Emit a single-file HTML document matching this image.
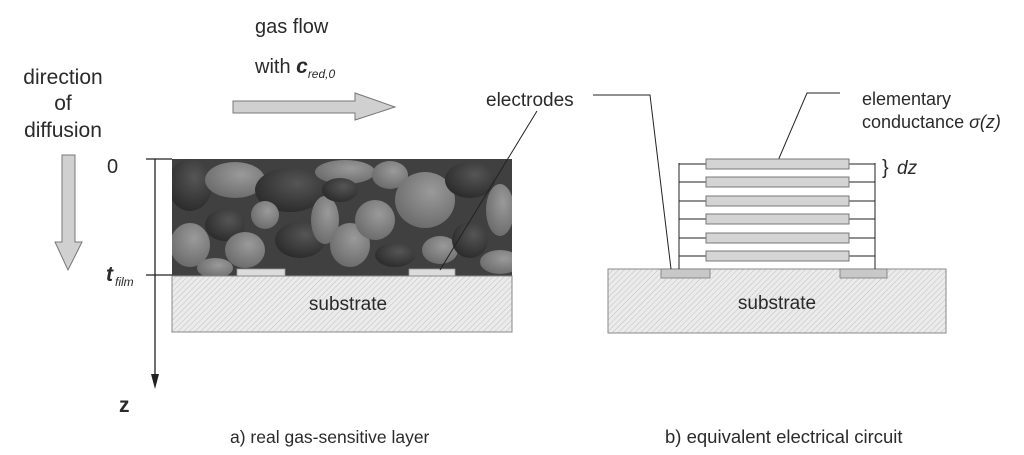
<!DOCTYPE html>
<html><head><meta charset="utf-8"><style>
html,body{margin:0;padding:0;background:#fff;width:1024px;height:455px;overflow:hidden}
text{font-family:"Liberation Sans",sans-serif;fill:#2a2a2a}
</style></head><body>
<svg width="1024" height="455" viewBox="0 0 1024 455" xmlns="http://www.w3.org/2000/svg">
<defs>
<pattern id="h" width="4" height="4" patternUnits="userSpaceOnUse" patternTransform="rotate(45)">
<rect width="4" height="4" fill="#ebebeb"/><line x1="0" y1="0" x2="0" y2="4" stroke="#c0c0c0" stroke-width="1"/></pattern>
<radialGradient id="gl" cx="0.6" cy="0.35" r="0.7"><stop offset="0" stop-color="#9a9a9a"/><stop offset="1" stop-color="#6a6a6a"/></radialGradient>
<radialGradient id="gd" cx="0.6" cy="0.35" r="0.7"><stop offset="0" stop-color="#555"/><stop offset="1" stop-color="#2a2a2a"/></radialGradient>
<clipPath id="fc"><rect x="172" y="159" width="340" height="117"/></clipPath>
</defs>

<text x="255" y="33" font-size="20">gas flow</text>
<text x="255" y="73" font-size="20">with <tspan font-style="italic" font-weight="bold" font-size="21">c</tspan><tspan font-style="italic" font-size="12" dy="5">red,0</tspan></text>
<text x="63" y="84" font-size="21" text-anchor="middle">direction</text>
<text x="63" y="110" font-size="21" text-anchor="middle">of</text>
<text x="63" y="137" font-size="21" text-anchor="middle">diffusion</text>

<polygon points="233,101 355,101 355,93 395,107 355,120 355,113 233,113" fill="#d0d0d0" stroke="#777" stroke-width="1"/>
<polygon points="62,155 75,155 75,242 82,242 68,270 55,242 62,242" fill="#d0d0d0" stroke="#777" stroke-width="1"/>

<line x1="155" y1="159" x2="155" y2="380" stroke="#222" stroke-width="1.3"/>
<polygon points="151,374 159,374 155,389" fill="#222"/>
<line x1="146" y1="159" x2="172" y2="159" stroke="#222" stroke-width="1.2"/>
<line x1="146" y1="275" x2="172" y2="275" stroke="#222" stroke-width="1.2"/>
<text x="107" y="173" font-size="20">0</text>
<text x="106" y="281" font-size="21" font-style="italic" font-weight="bold">t</text><text x="115" y="286" font-size="12" font-style="italic">film</text>
<text x="119" y="412" font-size="21" font-weight="bold">z</text>

<rect x="172" y="159" width="340" height="117" fill="#404040"/>
<g clip-path="url(#fc)">
<ellipse cx="190" cy="185" rx="22" ry="26" fill="url(#gd)"/>
<ellipse cx="235" cy="180" rx="30" ry="18" fill="url(#gl)"/>
<ellipse cx="290" cy="190" rx="35" ry="22" fill="url(#gd)"/>
<ellipse cx="345" cy="172" rx="30" ry="12" fill="url(#gl)"/>
<ellipse cx="390" cy="175" rx="18" ry="14" fill="url(#gl)"/>
<ellipse cx="425" cy="200" rx="30" ry="28" fill="url(#gl)"/>
<ellipse cx="470" cy="180" rx="25" ry="18" fill="url(#gd)"/>
<ellipse cx="500" cy="210" rx="14" ry="26" fill="url(#gl)"/>
<ellipse cx="190" cy="245" rx="20" ry="22" fill="url(#gl)"/>
<ellipse cx="225" cy="225" rx="20" ry="16" fill="url(#gd)"/>
<ellipse cx="245" cy="250" rx="20" ry="18" fill="url(#gl)"/>
<ellipse cx="265" cy="215" rx="14" ry="14" fill="url(#gl)"/>
<ellipse cx="300" cy="240" rx="25" ry="18" fill="url(#gd)"/>
<ellipse cx="325" cy="220" rx="14" ry="24" fill="url(#gl)"/>
<ellipse cx="350" cy="245" rx="20" ry="22" fill="url(#gl)"/>
<ellipse cx="375" cy="220" rx="20" ry="20" fill="url(#gl)"/>
<ellipse cx="395" cy="255" rx="20" ry="12" fill="url(#gd)"/>
<ellipse cx="440" cy="250" rx="18" ry="14" fill="url(#gl)"/>
<ellipse cx="470" cy="240" rx="18" ry="18" fill="url(#gd)"/>
<ellipse cx="500" cy="262" rx="20" ry="12" fill="url(#gl)"/>
<ellipse cx="215" cy="268" rx="18" ry="10" fill="url(#gl)"/>
<ellipse cx="340" cy="190" rx="18" ry="12" fill="url(#gd)"/>
</g>
<rect x="237" y="269" width="48" height="7" fill="#dcdcdc" stroke="#999" stroke-width="0.8"/>
<rect x="409" y="269" width="46" height="7" fill="#dcdcdc" stroke="#999" stroke-width="0.8"/>
<rect x="172" y="276" width="340" height="56" fill="url(#h)" stroke="#888" stroke-width="1"/>
<text x="348" y="310" font-size="19" text-anchor="middle">substrate</text>
<text x="486" y="106" font-size="19">electrodes</text>
<line x1="537" y1="111" x2="440" y2="270" stroke="#222" stroke-width="1"/>

<rect x="608" y="269" width="338" height="64" fill="url(#h)" stroke="#888" stroke-width="1"/>
<text x="777" y="309" font-size="19" text-anchor="middle">substrate</text>
<rect x="661" y="269" width="49" height="9" fill="#c8c8c8" stroke="#777" stroke-width="0.8"/>
<rect x="840" y="269" width="47" height="9" fill="#c8c8c8" stroke="#777" stroke-width="0.8"/>
<g stroke="#222" stroke-width="1" fill="none">
<line x1="679" y1="163" x2="679" y2="269"/>
<line x1="875" y1="163" x2="875" y2="269"/>
<line x1="679" y1="164" x2="875" y2="164"/>
<line x1="679" y1="182" x2="875" y2="182"/>
<line x1="679" y1="201" x2="875" y2="201"/>
<line x1="679" y1="219" x2="875" y2="219"/>
<line x1="679" y1="238" x2="875" y2="238"/>
<line x1="679" y1="256" x2="875" y2="256"/>
<polyline points="593,95 650,95 671,269"/>
<polyline points="840,93 807,93 777,163"/>
</g>
<g fill="#d4d4d4" stroke="#777" stroke-width="1">
<rect x="706" y="159" width="143" height="10"/>
<rect x="706" y="177" width="143" height="10"/>
<rect x="706" y="196" width="143" height="10"/>
<rect x="706" y="214" width="143" height="10"/>
<rect x="706" y="233" width="143" height="10"/>
<rect x="706" y="251" width="143" height="10"/>
</g>
<text x="862" y="105" font-size="18">elementary</text>
<text x="862" y="128" font-size="18">conductance <tspan font-style="italic">σ(z)</tspan></text>
<text x="882" y="174" font-size="20">}</text><text x="897" y="174" font-size="19" font-style="italic">dz</text>

<text x="230" y="443" font-size="17.5">a) real gas-sensitive layer</text>
<text x="665" y="443" font-size="18.5">b) equivalent electrical circuit</text>
</svg>
</body></html>
